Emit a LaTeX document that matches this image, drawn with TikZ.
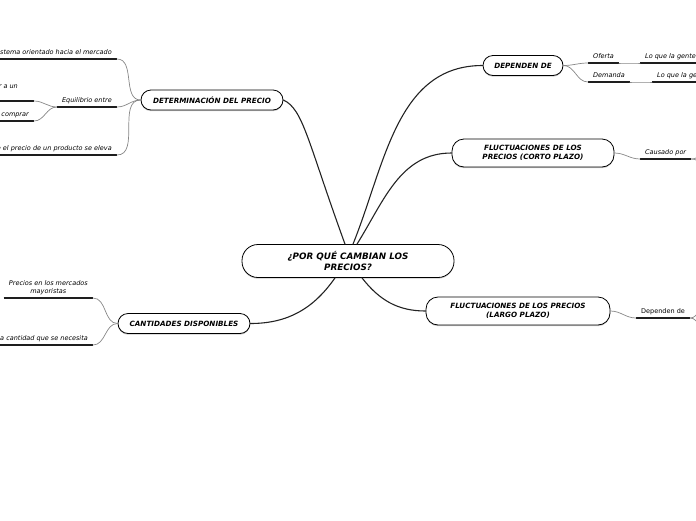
\documentclass[tikz,border=0pt]{standalone}
\usepackage{fontspec}
\setmainfont{DejaVu Sans}
\usetikzlibrary{shadows}
\begin{document}
\begin{tikzpicture}[x=1pt,y=-1pt,line cap=round,line join=round,
  topic/.style={draw=black,line width=0.8pt,fill=white,rounded corners=10pt,
    align=center,inner xsep=6pt,inner ysep=2pt,minimum height=20pt,
    font=\fontsize{7.2}{8.6}\selectfont\bfseries\itshape,
    drop shadow={shadow xshift=0pt,shadow yshift=-1.2pt,opacity=0.4,fill=gray}},
  leaf/.style={align=center,inner xsep=5pt,inner ysep=3pt,text height=5pt,text depth=1.5pt,
    font=\fontsize{6.5}{8}\selectfont\itshape,
    append after command={(\tikzlastnode.south west) edge[underline] (\tikzlastnode.south east)}},
  underline/.style={draw=barcol,line width=1.8pt,line cap=butt},
  trunk/.style={draw=trunkcol,line width=1.1pt},
  twig/.style={draw=twigcol,line width=0.7pt}]
\definecolor{barcol}{RGB}{30,30,30}
\definecolor{trunkcol}{RGB}{35,35,35}
\definecolor{twigcol}{RGB}{135,135,135}

\useasboundingbox (0,0) rectangle (696,520);
\clip (0,0) rectangle (696,520);

\node[topic,minimum width=212pt,minimum height=33pt,rounded corners=16pt,
  font=\fontsize{8.8}{10.8}\selectfont\bfseries\itshape]
  (central) at (348,261) {¿POR QUÉ CAMBIAN LOS\\PRECIOS?};

\node[topic,minimum width=142pt] (determ) at (212,100) {DETERMINACIÓN DEL PRECIO};
\node[topic,minimum width=80pt] (depend) at (523,65.5) {DEPENDEN DE};
\node[topic,minimum width=162pt,minimum height=28pt,rounded corners=12pt]
  (corto) at (533,153) {FLUCTUACIONES DE LOS\\PRECIOS (CORTO PLAZO)};
\node[topic,minimum width=184pt,minimum height=28pt,rounded corners=12pt]
  (largo) at (518,311) {FLUCTUACIONES DE LOS PRECIOS\\(LARGO PLAZO)};
\node[topic,minimum width=132pt] (cantidades) at (184,323.5) {CANTIDADES DISPONIBLES};

\draw[trunk] ([xshift=-3pt]central.north) to[out=110,in=-25,out distance=110pt,in distance=22pt] (determ.east);
\draw[trunk] ([xshift=5pt]central.north) to[out=68,in=180] (depend.west);
\draw[trunk] ([xshift=9pt]central.north) to[out=58,in=180] (corto.west);
\draw[trunk] ([xshift=14pt]central.south) to[out=-52,in=180] (largo.west);
\draw[trunk] ([xshift=-13pt]central.south) to[out=-125,in=0] (cantidades.east);

\node[leaf,anchor=south east] (sistema) at (117,59) {stema orientado hacia el mercado};
\node[leaf,anchor=south east] (equilibrio) at (117,107) {Equilibrio entre};
\node[leaf,anchor=south east,inner xsep=16pt,text depth=9.5pt] (aun) at (34,101) {r a un};
\node[leaf,anchor=south east] (comprar) at (34,121) {comprar};
\node[leaf,anchor=south east] (eleva) at (117,155) {e el precio de un producto se eleva};

\draw[twig] (determ.west) to[out=180,in=0] (sistema.south east);
\draw[twig] (determ.west) to[out=180,in=0] (equilibrio.south east);
\draw[twig] (determ.west) to[out=180,in=0] (eleva.south east);
\draw[twig] (equilibrio.south west) to[out=180,in=0] (aun.south east);
\draw[twig] (equilibrio.south west) to[out=180,in=0] (comprar.south east);

\node[leaf,anchor=south west] (oferta) at (588,63) {Oferta};
\node[leaf,anchor=south west] (demanda) at (588,82) {Demanda};
\node[leaf,anchor=south west] (gente) at (640,63) {Lo que la gente};
\node[leaf,anchor=south west] (gentedos) at (652,82) {Lo que la ge};

\draw[twig] (depend.east) to[out=0,in=180] (oferta.south west);
\draw[twig] (depend.east) to[out=0,in=180] (demanda.south west);
\draw[twig] (oferta.south east) to[out=0,in=180] (gente.south west);
\draw[twig] (demanda.south east) to[out=0,in=180] (gentedos.south west);

\node[leaf,anchor=south west] (causado) at (640,159) {Causado por};
\coordinate (causadoup) at (712,150);
\coordinate (causadodown) at (712,168);
\draw[twig] (corto.east) to[out=0,in=180] (causado.south west);
\draw[twig] (causado.south east) to[out=0,in=180] (causadoup);
\draw[twig] (causado.south east) to[out=0,in=180] (causadodown);

\node[leaf,anchor=south west,font=\fontsize{6.5}{8}\selectfont] (dependen) at (636,318) {Dependen de};
\coordinate (dependenup) at (708,304);
\coordinate (dependendown) at (708,332);
\draw[twig] (largo.east) to[out=0,in=180] (dependen.south west);
\draw[twig] (dependen.south east) to[out=0,in=180] (dependenup);
\draw[twig] (dependen.south east) to[out=0,in=180] (dependendown);

\node[leaf,anchor=south east,text height=13pt] (mayoristas) at (93,298) {Precios en los mercados\\mayoristas};
\node[leaf,anchor=south east] (necesita) at (93,345) {la cantidad que se necesita};

\draw[twig] (cantidades.west) to[out=180,in=0] (mayoristas.south east);
\draw[twig] (cantidades.west) to[out=180,in=0] (necesita.south east);
\end{tikzpicture}
\end{document}
